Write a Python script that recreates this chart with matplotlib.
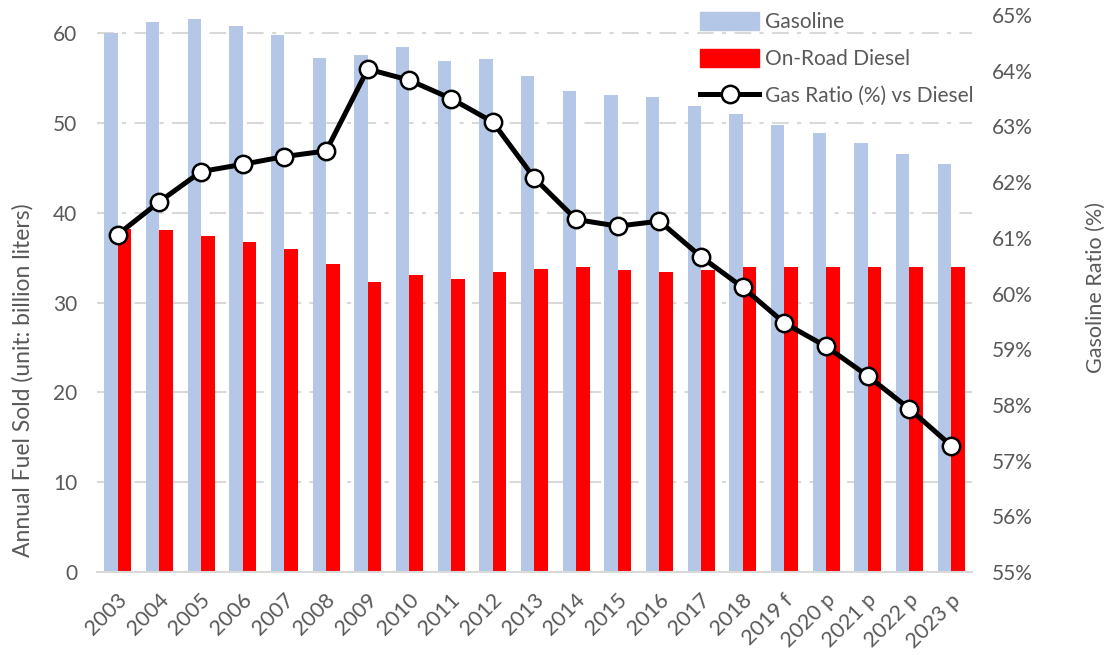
import matplotlib.pyplot as plt
import matplotlib.transforms as mtransforms
import numpy as np
from matplotlib.lines import Line2D
from matplotlib.patches import Patch

plt.rcParams['font.family'] = ['Lato', 'DejaVu Sans']

years = ['2003', '2004', '2005', '2006', '2007', '2008', '2009', '2010', '2011', '2012',
         '2013', '2014', '2015', '2016', '2017', '2018', '2019 f', '2020 p', '2021 p',
         '2022 p', '2023 p']
gasoline = [60.0, 61.2, 61.6, 60.8, 59.8, 57.2, 57.5, 58.4, 56.9, 57.1,
            55.2, 53.6, 53.1, 52.9, 51.9, 51.0, 49.8, 48.9, 47.8, 46.5, 45.4]
diesel = [38.2, 38.1, 37.4, 36.7, 36.0, 34.3, 32.3, 33.1, 32.6, 33.4,
          33.7, 33.9, 33.6, 33.4, 33.6, 33.9, 34.0, 34.0, 33.9, 33.9, 33.9]
gas_ratio = [61.06, 61.65, 62.19, 62.32, 62.46, 62.56, 64.03, 63.83, 63.50, 63.08,
             62.07, 61.33, 61.21, 61.30, 60.66, 60.11, 59.47, 59.05, 58.52, 57.93, 57.27]

BLUE = '#B4C7E7'
RED = '#FF0000'
GRAY = '#595959'
GRID = '#D9D9D9'

fig = plt.figure(figsize=(11.07, 6.55), dpi=100)
ax = fig.add_axes([0.0876, 0.1267, 0.7904, 0.8503])
ax2 = ax.twinx()

x = np.arange(len(years))
w = 0.325
ax.bar(x - w / 2, gasoline, width=w, color=BLUE, zorder=2)
ax.bar(x + w / 2, diesel, width=w, color=RED, zorder=2)

ax2.plot(x, gas_ratio, color='black', lw=3.6, marker='o', markersize=12.5,
         markerfacecolor='white', markeredgecolor='black', markeredgewidth=1.8, zorder=5)

ax.set_xlim(-0.5, len(years) - 0.5)
ax.set_ylim(0, 62)
ax.set_yticks([0, 10, 20, 30, 40, 50, 60])
ax2.set_ylim(55, 65)
ax2.set_yticks(range(55, 66))
ax2.set_yticklabels([f'{v}%' for v in range(55, 66)])

# dash-dot gridlines
for v in [10, 20, 30, 40, 50, 60]:
    ax.axhline(v, color=GRID, lw=1.5, dashes=(8, 4, 2, 4), zorder=1)

for a in (ax, ax2):
    for s in a.spines.values():
        s.set_visible(False)
ax.spines['bottom'].set_visible(True)
ax.spines['bottom'].set_color(GRID)
ax.spines['bottom'].set_linewidth(1.5)

ax.tick_params(axis='y', length=0, pad=14, labelsize=15, labelcolor=GRAY)
ax2.tick_params(axis='y', length=0, pad=14, labelsize=15, labelcolor=GRAY)
ax.tick_params(axis='x', length=0, pad=18, labelsize=15.5, labelcolor=GRAY)
ax.set_xticks(x)
ax.set_xticklabels(years, rotation=45, ha='right', va='center', rotation_mode='anchor')
shift = mtransforms.ScaledTranslation(6 / 100, 0, fig.dpi_scale_trans)
for lab in ax.get_xticklabels():
    lab.set_transform(lab.get_transform() + shift)

ax.set_ylabel('Annual Fuel Sold (unit: billion liters)', fontsize=16.5, color=GRAY)
ax.yaxis.set_label_coords(-0.072, 0.345)
ax2.set_ylabel('Gasoline Ratio (%)', fontsize=15.5, color=GRAY, rotation=90)
ax2.yaxis.set_label_coords(1.13, 0.51)

handles = [
    Patch(color=BLUE, label='Gasoline'),
    Patch(color=RED, label='On-Road Diesel'),
    Line2D([], [], color='black', lw=3.6, marker='o', markersize=12.5,
           markerfacecolor='white', markeredgecolor='black', markeredgewidth=1.8,
           label='Gas Ratio (%) vs Diesel'),
]
leg = ax2.legend(handles=handles, loc='upper right', bbox_to_anchor=(1.012, 1.02),
                 frameon=False, fontsize=15, handlelength=2.85, handleheight=0.95,
                 handletextpad=0.3, labelspacing=0.8, borderaxespad=0.0)
for t in leg.get_texts():
    t.set_color(GRAY)

fig.savefig('out.png', dpi=100)
